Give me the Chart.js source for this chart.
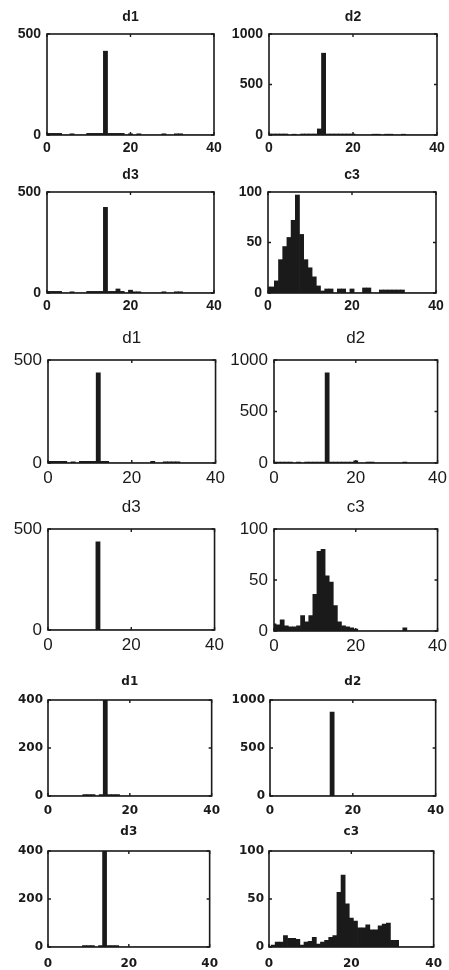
<!DOCTYPE html>
<html>
<head>
<meta charset="utf-8">
<script src="https://cdn.jsdelivr.net/npm/chart.js@4.4.0/dist/chart.umd.min.js"></script>
<style>
  html, body { margin: 0; padding: 0; background: #fff; overflow: hidden; }
  body { width: 449px; height: 970px; position: relative; }
  canvas { position: absolute; }
</style>
</head>
<body>
<script>
// ---------------- Data ----------------
// histogram bins are centred on integers 0..40
const binCenters = [0,1,2,3,4,5,6,7,8,9,10,11,12,13,14,15,16,17,18,19,20,21,22,23,24,25,26,27,28,29,30,31,32,33,34,35,36,37,38,39,40];
const xTickValues = [0, 20, 40];

const panelTitles = ['d1', 'd2', 'd3', 'c3', 'd1', 'd2', 'd3', 'c3', 'd1', 'd2', 'd3', 'c3'];
const yTickSets = [
  [0, 500], [0, 500, 1000], [0, 500], [0, 50, 100],
  [0, 500], [0, 500, 1000], [0, 500], [0, 50, 100],
  [0, 200, 400], [0, 500, 1000], [0, 200, 400], [0, 50, 100]
];

const d1Set1 = [8,8,8,8,0, 0,6,0,0,0, 8,8,8,8,415, 8,8,8,8,0, 6,0,6,0,0, 0,0,0,6,0, 0,6,6,0,0, 0,0,0,0,0, 0];
const d2Set1 = [10,10,10,10,10, 0,8,0,10,10, 10,10,60,810,10, 10,10,10,10,10, 10,0,0,0,0, 8,8,0,8,8, 0,0,8,0,0, 0,0,0,0,0, 0];
const d3Set1 = [8,8,8,8,0, 0,6,0,0,0, 8,8,8,8,424, 8,8,20,8,0, 14,6,6,0,0, 0,0,0,6,0, 0,6,6,0,0, 0,0,0,0,0, 0];
const c3Set1 = [6,6,12,33,46, 55,72,97,58,33, 25,16,7,2,4, 4,0,4,4,0, 4,0,0,5,5, 0,0,3,3,3, 3,3,3,0,0, 0,0,0,0,0, 0];

const d1Set2 = [8,8,8,8,8, 0,6,0,8,8, 8,8,438,8,8, 0,0,0,0,0, 0,0,0,0,0, 8,0,0,6,6, 6,6,0,0,0, 0,0,0,0,0, 0];
const d2Set2 = [10,10,10,10,10, 0,8,0,10,10, 10,10,10,875,10, 10,10,10,10,10, 22,0,0,10,10, 0,0,0,0,0, 0,0,8,0,0, 0,0,0,0,0, 0];
const d3Set2 = [0,0,0,0,0, 0,0,0,0,0, 0,0,436,0,0, 0,0,0,0,0, 0,0,0,0,0, 0,0,0,0,0, 0,0,0,0,0, 0,0,0,0,0, 0];
const c3Set2 = [7,6,11,5,4, 4,5,15,9,15, 36,78,80,54,48, 25,9,5,4,3, 2,0,0,0,0, 0,0,0,0,0, 0,0,3,0,0, 0,0,0,0,0, 0];

const d1Set3 = [0,0,0,0,0, 0,0,0,0,6, 6,6,0,6,450, 6,6,6,0,0, 0,0,0,0,0, 0,0,0,0,0, 0,0,0,0,0, 0,0,0,0,0, 0];
const d2Set3 = [0,0,0,0,0, 0,0,0,0,0, 0,0,0,0,0, 875,0,0,0,0, 0,0,0,0,0, 0,0,0,0,0, 0,0,0,0,0, 0,0,0,0,0, 0];
const d3Set3 = [0,0,0,0,0, 0,0,0,0,6, 6,6,0,6,450, 6,6,6,0,0, 0,0,0,0,0, 0,0,0,0,0, 0,0,0,0,0, 0,0,0,0,0, 0];
const c3Set3 = [0,2,5,5,12, 9,9,8,2,5, 6,10,3,5,7, 10,12,57,75,45, 30,27,20,20,23, 18,18,22,24,25, 7,7,0,0,0, 0,0,0,0,0, 0];

const panelCounts = [d1Set1, d2Set1, d3Set1, c3Set1, d1Set2, d2Set2, d3Set2, c3Set2, d1Set3, d2Set3, d3Set3, c3Set3];

// ---------------- Layout ----------------
// plot box of each panel on the page: [left, top, right, bottom]
const boxes = [
  [47, 34, 214, 135], [269, 34, 437, 135],
  [47, 192, 214, 293], [268, 192, 436, 293],
  [48, 360, 216, 463], [274, 360, 438, 463],
  [48, 529, 215, 630], [274, 529, 438, 631],
  [48, 700, 214, 796], [270, 700, 438, 796],
  [48, 851, 214, 947], [269, 851, 438, 947]
];

const styleGroups = {
  a: { family: '"Liberation Sans", Arial, sans-serif', size: 14, weight: 'bold', xPad: 5, yPad: 6 },
  b: { family: '"Liberation Sans", Arial, sans-serif', size: 17, weight: 'normal', xPad: 5, yPad: 6 },
  c: { family: '"DejaVu Sans", sans-serif', size: 12, weight: 'bold', xPad: 8, yPad: 5 }
};
const rowStyle = ['a', 'a', 'b', 'b', 'c', 'c'];
const rowTitleGap = [17, 17, 22, 22, 18, 19];
const rowXPadExtra = [0, 0, 0, 0, 0, 2];

const PAD_L = 52, PAD_R = 14, PAD_T = 30, PAD_B = 30;
const INK = '#1a1a1a';

function framePlugin(title, yTicks, st, titleGap) {
  return {
    id: 'frame',
    afterDatasetsDraw(chart) {
      const { ctx, chartArea: a } = chart;
      const x = chart.scales.x, y = chart.scales.y;
      ctx.save();
      ctx.strokeStyle = INK;
      ctx.lineWidth = 1.6;
      ctx.strokeRect(a.left, a.top, a.right - a.left, a.bottom - a.top);
      // inward tick marks, MATLAB style
      const t = 3;
      ctx.lineWidth = 1.4;
      ctx.beginPath();
      xTickValues.forEach(v => {
        const px = x.getPixelForValue(v);
        ctx.moveTo(px, a.bottom); ctx.lineTo(px, a.bottom - t);
        ctx.moveTo(px, a.top); ctx.lineTo(px, a.top + t);
      });
      yTicks.forEach(v => {
        const py = y.getPixelForValue(v);
        ctx.moveTo(a.left, py); ctx.lineTo(a.left + t, py);
        ctx.moveTo(a.right, py); ctx.lineTo(a.right - t, py);
      });
      ctx.stroke();
      ctx.fillStyle = INK;
      ctx.font = `${st.weight} ${st.size}px ${st.family}`;
      ctx.textAlign = 'center';
      ctx.textBaseline = 'middle';
      ctx.fillText(title, (a.left + a.right) / 2, a.top - titleGap);
      ctx.restore();
    }
  };
}

function makePanel(i) {
  const [l, t, r, b] = boxes[i];
  const row = Math.floor(i / 2);
  const st = styleGroups[rowStyle[row]];
  const yTicks = yTickSets[i];
  const counts = panelCounts[i];

  const canvas = document.createElement('canvas');
  canvas.width = (r - l) + PAD_L + PAD_R;
  canvas.height = (b - t) + PAD_T + PAD_B;
  canvas.style.left = (l - PAD_L) + 'px';
  canvas.style.top = (t - PAD_T) + 'px';
  document.body.appendChild(canvas);

  const font = { family: st.family, size: st.size, weight: st.weight };

  new Chart(canvas, {
    type: 'bar',
    data: {
      datasets: [{
        data: binCenters.map((c, k) => ({ x: c, y: counts[k] })),
        backgroundColor: INK,
        borderWidth: 0,
        barPercentage: 1,
        categoryPercentage: 1,
        clip: 0
      }]
    },
    options: {
      responsive: false,
      animation: false,
      layout: { padding: { top: PAD_T, right: PAD_R, left: 0, bottom: 0 } },
      plugins: { legend: { display: false }, tooltip: { enabled: false } },
      scales: {
        x: {
          type: 'linear', min: 0, max: 40, offset: false,
          grid: { display: false, drawTicks: false },
          border: { display: false },
          afterBuildTicks: s => { s.ticks = xTickValues.map(v => ({ value: v })); },
          afterFit: s => { s.height = PAD_B; },
          ticks: { font, color: INK, padding: st.xPad + rowXPadExtra[row], maxRotation: 0, autoSkip: false, callback: v => String(v) }
        },
        y: {
          type: 'linear', min: 0, max: yTicks[yTicks.length - 1],
          grid: { display: false, drawTicks: false },
          border: { display: false },
          afterBuildTicks: s => { s.ticks = yTicks.map(v => ({ value: v })); },
          afterFit: s => { s.width = PAD_L; },
          ticks: { font, color: INK, padding: st.yPad, autoSkip: false, callback: v => String(v) }
        }
      }
    },
    plugins: [framePlugin(panelTitles[i], yTicks, st, rowTitleGap[row])]
  });
}

for (let i = 0; i < boxes.length; i++) makePanel(i);
</script>
</body>
</html>
